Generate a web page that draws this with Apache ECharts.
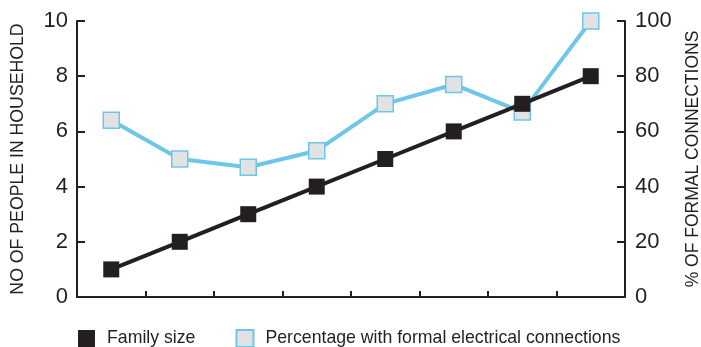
<!DOCTYPE html>
<html><head><meta charset="utf-8">
<script src="https://cdn.jsdelivr.net/npm/echarts@6/dist/echarts.min.js"></script>
<style>html,body{margin:0;padding:0;background:#fff}#c{width:701px;height:347px}</style>
</head><body><div id="c"></div>
<script>
const categories = ['1','2','3','4','5','6','7','8'];
const familySize = [1, 2, 3, 4, 5, 6, 7, 8];
const pctFormal = [64, 50, 47, 53, 70, 77, 67, 100];
const leftTicks = [0, 2, 4, 6, 8, 10];
const rightTicks = [0, 20, 40, 60, 80, 100];

const chart = echarts.init(document.getElementById('c'), null, {renderer:'canvas'});
const axisLine = {show:true, lineStyle:{color:'#231f20', width:2}};
const font = 'Liberation Sans, Arial, sans-serif';
chart.setOption({
  animation:false,
  grid:{left:77, right:76, top:21, bottom:50, outerBoundsMode:'none', containLabel:false},
  legend:{
    bottom:-1, left:78, padding:0, itemWidth:17, itemHeight:17, itemGap:40,
    textStyle:{fontSize:17.7, color:'#231f20', fontFamily:font, padding:[0,0,0,7]},
    data:[{name:'Family size', icon:'rect'},{name:'Percentage with formal electrical connections', icon:'rect'}]
  },
  xAxis:{
    type:'category', data:categories, boundaryGap:true,
    axisLine:axisLine,
    axisTick:{show:true, inside:true, length:6, lineStyle:{color:'#231f20', width:2}},
    axisLabel:{show:false}, splitLine:{show:false}
  },
  yAxis:[{
    type:'value', min:0, max:10, interval:2, position:'left',
    name:'NO OF PEOPLE IN HOUSEHOLD', nameLocation:'middle', nameRotate:90, nameGap:50,
    nameTextStyle:{fontSize:17.7, color:'#231f20', fontFamily:font},
    axisLine:axisLine,
    axisTick:{show:true, inside:true, length:8, lineStyle:{color:'#231f20', width:2}},
    axisLabel:{fontSize:22, color:'#231f20', margin:9, fontFamily:font},
    splitLine:{show:false}
  },{
    type:'value', min:0, max:100, interval:20, position:'right',
    name:'% OF FORMAL CONNECTIONS', nameLocation:'middle', nameRotate:90, nameGap:59,
    nameTextStyle:{fontSize:17.5, color:'#231f20', fontFamily:font},
    axisLine:axisLine,
    axisTick:{show:true, inside:true, length:8, lineStyle:{color:'#231f20', width:2}},
    axisLabel:{fontSize:22, color:'#231f20', margin:10, fontFamily:font},
    splitLine:{show:false}
  }],
  series:[{
    name:'Percentage with formal electrical connections', type:'line', yAxisIndex:1, data:pctFormal,
    symbol:'rect', symbolSize:16,
    lineStyle:{color:'#6ec6e8', width:4},
    itemStyle:{color:'#e1e2e3', borderColor:'#6ec6e8', borderWidth:1.5},
    z:2
  },{
    name:'Family size', type:'line', yAxisIndex:0, data:familySize,
    symbol:'rect', symbolSize:16,
    lineStyle:{color:'#231f20', width:4},
    itemStyle:{color:'#231f20'},
    z:3
  }]
});
</script></body></html>
